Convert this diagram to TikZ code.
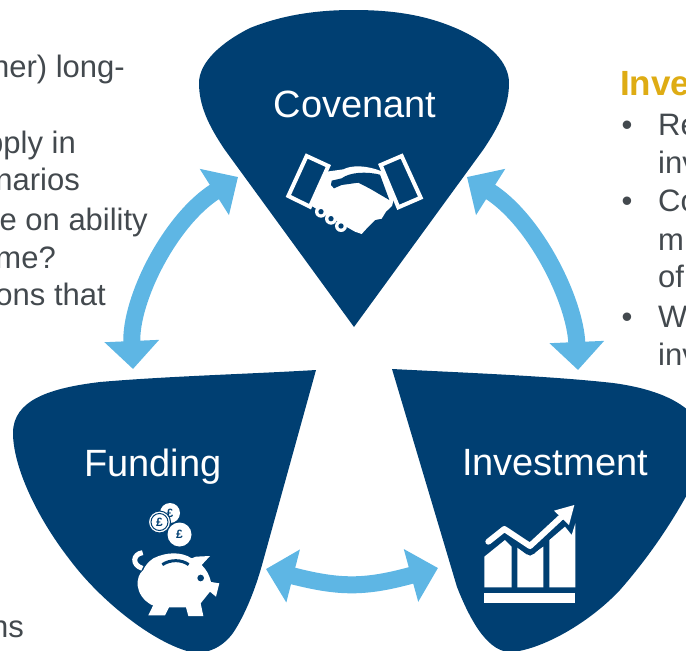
\documentclass[tikz,border=0pt]{standalone}
\usepackage{fontspec}
\usepackage{xcolor}
\usetikzlibrary{arrows.meta}
\setmainfont{Liberation Sans}
\definecolor{navyblue}{HTML}{003F72}
\definecolor{skyblue}{HTML}{5EB6E4}
\definecolor{goldtext}{HTML}{DEAC14}
\definecolor{greytext}{HTML}{43494E}

\begin{document}
\begin{tikzpicture}[
            x=1pt, y=-1pt,
            blob/.style={fill=navyblue},
            title/.style={text=white, font=\fontsize{38}{38}\selectfont, anchor=base, inner sep=0pt},
            bodyleft/.style={text=greytext, font=\fontsize{31}{31}\selectfont, anchor=base east, inner sep=0pt},
            bodyright/.style={text=greytext, font=\fontsize{31}{31}\selectfont, anchor=base west, inner sep=0pt},
            heading/.style={text=goldtext, font=\fontsize{35}{35}\bfseries\selectfont, anchor=base west, inner sep=0pt},
            arrow/.style={draw=skyblue, line width=17pt, {Triangle[length=28pt,width=53pt]}-{Triangle[length=28pt,width=53pt]}},
            coin/.style={circle, fill=white, text=navyblue, inner sep=0pt, font=\bfseries\fontsize{12}{12}\selectfont}
        ]
            \useasboundingbox (0,0) rectangle (686,651);
            \clip (0,0) rectangle (686,651);

            % Covenant block
            \fill[blob] (354,327) -- (225,150)
                .. controls (208,125) and (199,105) .. (199,83)
                .. controls (199,62) and (222,42) .. (250,28)
                .. controls (285,14) and (320,10) .. (353,10)
                .. controls (390,10) and (425,14) .. (460,30)
                .. controls (490,44) and (509,62) .. (509,83)
                .. controls (509,105) and (500,125) .. (483,150) -- cycle;
            \node[title] (covenant) at (355,117) {Covenant};

            % Funding block
            \fill[blob] (316,370)
                .. controls (250,374) and (170,376) .. (100,382)
                .. controls (50,388) and (13,400) .. (13,433)
                .. controls (13,465) and (35,515) .. (70,560)
                .. controls (100,600) and (150,640) .. (187,651)
                .. controls (205,656) and (222,648) .. (233,633)
                .. controls (245,615) and (255,590) .. (262,565) -- cycle;
            \node[title] (funding) at (153,476) {Funding};

            % Investment block
            \fill[blob] (392,369)
                .. controls (470,373) and (550,376) .. (613,383)
                .. controls (650,388) and (675,398) .. (690,412)
                -- (700,470)
                .. controls (680,510) and (655,550) .. (620,590)
                .. controls (590,622) and (545,648) .. (513,652)
                .. controls (490,654) and (472,625) .. (457,587) -- cycle;
            \node[title] (investment) at (555,475) {Investment};

            % Handshake icon
            \begin{scope}[shift={(260,130)}, scale=1/3]
                \fill[white] (200,125) -- (250,118) .. controls (275,105) and (320,105) .. (367,125)
                    -- (402,205) -- (396,228) -- (378,245) -- (365,266) -- (345,270) -- (325,290)
                    -- (305,312) -- (285,305) -- (262,292) -- (155,228) -- cycle;
                \fill[navyblue] (215,152) -- (245,145) .. controls (270,126) and (320,124) .. (360,134)
                    -- (388,210) -- (330,176) -- (295,158) -- (245,165) -- (222,175) -- (213,165) -- cycle;
                \draw[white, line width=4pt, line join=miter, fill=navyblue] (140,78) -- (205,108) -- (150,230) -- (85,198) -- cycle;
                \draw[white, line width=4pt, line join=miter, fill=navyblue] (425,78) -- (482,203) -- (415,232) -- (362,105) -- cycle;
                \foreach \fx/\fy in {183/245, 213/266, 243/288} {
                    \fill[white] (\fx,\fy) circle (18);
                    \fill[navyblue] (\fx,\fy) circle (8);
                }
            \end{scope}

            % Piggy bank icon
            \begin{scope}[shift={(110,490)}, scale=1/3]
                \fill[white] (100,240) .. controls (75,260) and (72,315) .. (125,345) -- (130,345)
                    -- (115,376) -- (165,376) -- (177,352) -- (228,352) -- (235,378) -- (280,378) -- (272,340)
                    -- (300,305) -- (318,320) -- (328,280) -- (303,276)
                    .. controls (298,255) and (290,240) .. (275,225) -- (300,198) -- (258,200) -- (245,205)
                    .. controls (215,185) and (170,185) .. (130,205) .. controls (115,215) and (105,228) .. (100,240) -- cycle;
                \draw[white, line width=5pt] (98,188) .. controls (68,192) and (65,225) .. (97,235);
                \fill[navyblue] (272,264) circle (10);
                \draw[navyblue, line width=3pt] (157,224) .. controls (180,208) and (215,208) .. (236,224);
            \end{scope}
            \node[coin, minimum size=20pt] (coin_top) at (170,513) {£};
            \node[coin, draw=navyblue, line width=1pt, minimum size=22pt] (coin_left) at (159.5,522) {£};
            \draw[navyblue, line width=1pt] (coin_left) circle (8.5);
            \node[coin, minimum size=24pt] (coin_right) at (179.5,534.5) {£};

            % Chart icon
            \begin{scope}[shift={(470,490)}, scale=1/3]
                \fill[white] (43,310) rectangle (316,340);
                \fill[white] (43,200) -- (105,150) -- (125,170) -- (125,292) -- (43,292) -- cycle;
                \fill[white] (142,172) -- (180,197) -- (220,170) -- (220,292) -- (142,292) -- cycle;
                \fill[white] (238,150) -- (285,110) -- (305,135) -- (316,100) -- (316,292) -- (238,292) -- cycle;
                \draw[navyblue, line width=12pt, line cap=round, line join=round] (50,160) -- (103,122) -- (180,178) -- (280,85);
                \draw[white, line width=6pt, line cap=round, line join=round] (55,155) -- (103,117) -- (180,168) -- (275,80);
                \fill[white] (252,62) -- (313,45) -- (297,105) -- cycle;
            \end{scope}

            % Left text
            \node[bodyleft] (left_one) at (125,77) {ner) long-};
            \node[bodyleft] (left_two) at (76,153) {pply in};
            \node[bodyleft] (left_three) at (80,190) {narios};
            \node[bodyleft] (left_four) at (148,230) {e on ability};
            \node[bodyleft] (left_five) at (56,268) {me?};
            \node[bodyleft] (left_six) at (106,305) {ons that};
            \node[bodyleft] (left_seven) at (24,637) {ns};

            % Right text
            \node[heading] (right_head) at (620,95) {Inve};
            \node[bodyright] (bullet_one) at (621.5,135) {•};
            \node[bodyright] (right_one) at (658,135) {Re};
            \node[bodyright] (right_two) at (658,173) {inv};
            \node[bodyright] (bullet_two) at (621.5,211) {•};
            \node[bodyright] (right_three) at (658,211) {Co};
            \node[bodyright] (right_four) at (658,250) {mi};
            \node[bodyright] (right_five) at (658,287) {of};
            \node[bodyright] (bullet_three) at (621.5,327) {•};
            \node[bodyright] (right_six) at (658,327) {W};
            \node[bodyright] (right_seven) at (658,365) {inv};

            % Arrows between the blocks
            \coordinate (covenant_left) at (238,177);
            \coordinate (covenant_right) at (467,177);
            \coordinate (funding_top) at (133,369);
            \coordinate (funding_right) at (266,569);
            \coordinate (investment_top) at (578,370);
            \coordinate (investment_left) at (438,568);
            \draw[arrow] (funding_top) .. controls (130,300) and (170,220) .. (covenant_left);
            \draw[arrow] (covenant_right) .. controls (535,220) and (575,300) .. (investment_top);
            \draw[arrow] (funding_right) .. controls (340,588) and (365,588) .. (investment_left);

        \end{tikzpicture}
\end{document}
